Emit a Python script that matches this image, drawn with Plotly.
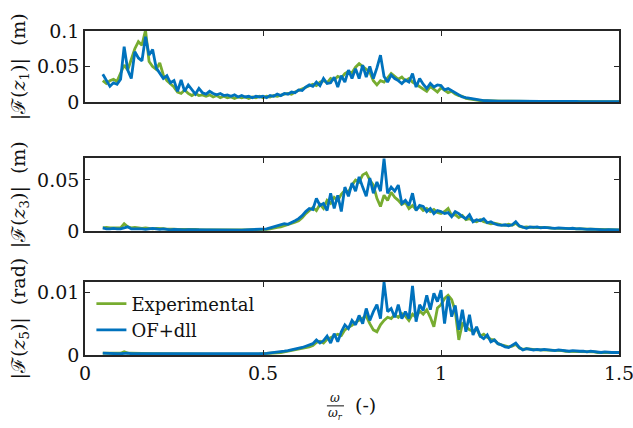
import numpy as np
import plotly.graph_objects as go
from plotly.subplots import make_subplots

# frequency grid omega/omega_r
freq = np.round(np.arange(0.05, 1.5001, 0.01), 2)

# panel 1 : |F(z1)| (m)
exp_z1 = [
    0.030,0.026,0.030,0.032,0.029,0.040,0.052,0.045,0.060,0.075,
    0.085,0.080,0.101,0.057,0.050,0.046,0.055,0.038,0.030,0.026,
    0.021,0.014,0.012,0.017,0.012,0.009,0.012,0.009,0.010,0.008,
    0.010,0.007,0.009,0.006,0.008,0.006,0.007,0.005,0.007,0.006,
    0.007,0.005,0.007,0.006,0.008,0.006,0.008,0.007,0.009,0.008,
    0.010,0.011,0.012,0.011,0.014,0.016,0.018,0.020,0.022,0.025,
    0.023,0.028,0.030,0.027,0.033,0.031,0.036,0.034,0.040,0.043,
    0.041,0.049,0.054,0.050,0.047,0.042,0.030,0.024,0.030,0.028,
    0.034,0.040,0.036,0.032,0.035,0.030,0.033,0.028,0.025,0.022,
    0.018,0.015,0.022,0.018,0.014,0.020,0.016,0.013,0.015,0.011,
    0.009,0.008,0.005,0.004,0.0035,0.003,0.002,0.0018,0.0015,0.0014,
    0.0013,0.0012,0.0012,0.0011,0.0010,0.0011,0.0009,0.0010,0.0009,0.0008,
    0.0009,0.0008,0.0008,0.0007,0.0008,0.0007,0.0007,0.0006,0.0007,0.0006,
    0.0006,0.0006,0.0005,0.0006,0.0005,0.0005,0.0005,0.0004,0.0005,0.0004,
    0.0004,0.0005,0.0004,0.0004,0.0004,0.0004]
sim_z1 = [
    0.039,0.030,0.022,0.027,0.025,0.032,0.078,0.045,0.033,0.071,
    0.062,0.058,0.092,0.066,0.074,0.048,0.040,0.033,0.037,0.027,
    0.030,0.015,0.031,0.015,0.024,0.018,0.011,0.019,0.013,0.011,
    0.015,0.012,0.010,0.012,0.009,0.010,0.008,0.010,0.007,0.009,
    0.007,0.008,0.006,0.008,0.007,0.008,0.006,0.009,0.008,0.011,
    0.009,0.012,0.011,0.014,0.013,0.017,0.016,0.021,0.024,0.022,
    0.028,0.023,0.033,0.026,0.027,0.035,0.021,0.037,0.028,0.045,
    0.033,0.047,0.033,0.052,0.035,0.050,0.033,0.048,0.066,0.036,
    0.028,0.038,0.033,0.030,0.026,0.031,0.028,0.040,0.021,0.033,
    0.025,0.019,0.026,0.021,0.024,0.023,0.017,0.019,0.016,0.012,
    0.010,0.007,0.006,0.005,0.004,0.003,0.0025,0.002,0.002,0.0015,
    0.0015,0.0013,0.0012,0.0014,0.0011,0.0012,0.0010,0.0011,0.0009,0.0010,
    0.0009,0.0010,0.0008,0.0009,0.0008,0.0009,0.0007,0.0008,0.0007,0.0008,
    0.0007,0.0008,0.0006,0.0007,0.0006,0.0007,0.0006,0.0006,0.0005,0.0006,
    0.0005,0.0006,0.0005,0.0005,0.0004,0.0005]

# panel 2 : |F(z3)| (m)
exp_z3 = [
    0.003,0.0035,0.003,0.003,0.0035,0.003,0.007,0.004,0.003,0.0035,
    0.003,0.0025,0.003,0.0025,0.002,0.0025,0.002,0.0022,0.0018,0.002,
    0.0018,0.0016,0.0017,0.0014,0.0015,0.0013,0.0014,0.0012,0.0013,0.0011,
    0.0012,0.001,0.0011,0.001,0.0011,0.0009,0.001,0.0009,0.001,0.0009,
    0.0009,0.0009,0.001,0.001,0.0011,0.0012,0.0016,0.002,0.003,0.0035,
    0.004,0.005,0.006,0.007,0.0085,0.010,0.013,0.017,0.020,0.023,
    0.020,0.026,0.022,0.030,0.027,0.033,0.030,0.036,0.040,0.038,
    0.045,0.050,0.048,0.055,0.057,0.050,0.045,0.032,0.024,0.035,
    0.030,0.038,0.033,0.030,0.026,0.028,0.022,0.025,0.021,0.024,
    0.020,0.022,0.019,0.021,0.018,0.017,0.019,0.022,0.015,0.016,
    0.013,0.015,0.011,0.012,0.010,0.009,0.011,0.009,0.008,0.007,
    0.0075,0.0065,0.006,0.0055,0.0065,0.0055,0.0075,0.0045,0.0035,0.004,
    0.0035,0.0038,0.0032,0.0035,0.003,0.0032,0.0028,0.0027,0.0025,0.0027,
    0.0023,0.0024,0.0021,0.0022,0.002,0.0019,0.0018,0.0016,0.0015,0.0014,
    0.0013,0.0012,0.0011,0.0011,0.001,0.001]
sim_z3 = [
    0.003,0.002,0.002,0.0025,0.002,0.002,0.003,0.004,0.002,0.002,
    0.0025,0.002,0.0015,0.002,0.0025,0.002,0.0015,0.002,0.0015,0.001,
    0.0015,0.0012,0.0014,0.001,0.0013,0.0011,0.0012,0.001,0.0011,0.0009,
    0.001,0.0009,0.0011,0.0009,0.001,0.0008,0.0009,0.0008,0.0009,0.0008,
    0.0009,0.001,0.001,0.0012,0.0013,0.0015,0.002,0.003,0.004,0.005,
    0.0055,0.007,0.0065,0.008,0.010,0.012,0.015,0.019,0.022,0.021,
    0.032,0.025,0.027,0.020,0.037,0.022,0.035,0.019,0.043,0.034,
    0.047,0.039,0.053,0.043,0.034,0.052,0.037,0.048,0.039,0.071,
    0.037,0.043,0.039,0.045,0.027,0.030,0.025,0.037,0.020,0.025,
    0.024,0.019,0.022,0.017,0.020,0.019,0.017,0.018,0.014,0.019,
    0.017,0.014,0.012,0.016,0.009,0.011,0.010,0.012,0.008,0.009,
    0.007,0.006,0.0055,0.006,0.005,0.006,0.009,0.005,0.004,0.0026,
    0.004,0.0035,0.004,0.003,0.0035,0.003,0.003,0.0025,0.003,0.0026,
    0.0025,0.0022,0.0026,0.002,0.0022,0.0018,0.0016,0.0018,0.0015,0.0013,
    0.0012,0.001,0.0012,0.001,0.0011,0.001]

# panel 3 : |F(z5)| (rad)
exp_z5 = [
    0.0003,0.0003,0.00028,0.0003,0.00025,0.00028,0.0005,0.0003,0.00028,0.00025,
    0.00025,0.00022,0.00025,0.00022,0.0002,0.00022,0.0002,0.0002,0.00018,0.0002,
    0.00018,0.00017,0.00018,0.00016,0.00017,0.00015,0.00016,0.00015,0.00015,0.00014,
    0.00015,0.00014,0.00014,0.00013,0.00014,0.00013,0.00013,0.00013,0.00012,0.00013,
    0.00012,0.00013,0.00014,0.00015,0.00017,0.0002,0.00022,0.00026,0.0003,0.00035,
    0.0004,0.0005,0.0006,0.0007,0.0008,0.0009,0.0010,0.0012,0.0013,0.0015,
    0.0020,0.0022,0.0019,0.0025,0.0028,0.0030,0.0033,0.0031,0.0040,0.0044,
    0.0047,0.0052,0.0055,0.0058,0.0062,0.0050,0.0040,0.0037,0.0048,0.0055,
    0.0060,0.0058,0.0064,0.0060,0.0066,0.0062,0.0055,0.0065,0.0060,0.0070,
    0.0065,0.0072,0.0060,0.0045,0.0075,0.0080,0.0090,0.0095,0.0088,0.0070,
    0.0024,0.0050,0.0045,0.0040,0.0038,0.0042,0.0030,0.0033,0.0028,0.0025,
    0.0024,0.0018,0.0016,0.0014,0.0013,0.0014,0.0017,0.0011,0.0009,0.0010,
    0.0009,0.0009,0.0008,0.0008,0.0008,0.0008,0.0007,0.0007,0.0007,0.0007,
    0.0006,0.0006,0.0006,0.0006,0.0005,0.0005,0.0005,0.0005,0.0005,0.0004,
    0.0004,0.0004,0.0004,0.0004,0.0004,0.0004]
sim_z5 = [
    0.0003,0.00025,0.0002,0.00025,0.0002,0.0002,0.00025,0.0003,0.0002,0.0002,
    0.0002,0.00018,0.0002,0.00018,0.0002,0.00017,0.00018,0.00016,0.00018,0.00016,
    0.00017,0.00015,0.00016,0.00015,0.00016,0.00014,0.00015,0.00014,0.00015,0.00014,
    0.00014,0.00013,0.00014,0.00013,0.00014,0.00013,0.00013,0.00012,0.00013,0.00012,
    0.00013,0.00015,0.00016,0.00018,0.0002,0.00022,0.00025,0.0003,0.00035,0.0004,
    0.0005,0.0006,0.0007,0.0008,0.0009,0.0011,0.0012,0.0014,0.0016,0.0018,
    0.0024,0.0019,0.0023,0.0030,0.0019,0.0034,0.0021,0.0037,0.0048,0.0042,
    0.0055,0.0048,0.0063,0.0050,0.0074,0.0055,0.0069,0.0080,0.0058,0.0116,
    0.0069,0.0074,0.0060,0.0080,0.0058,0.0069,0.0058,0.0110,0.0053,0.0080,
    0.0071,0.0095,0.0072,0.0098,0.0085,0.0103,0.0050,0.0093,0.0061,0.0079,
    0.0040,0.0072,0.0037,0.0064,0.0032,0.0045,0.0030,0.0026,0.0032,0.0021,
    0.0024,0.0018,0.0016,0.0013,0.0012,0.0015,0.0019,0.0012,0.0008,0.0010,
    0.0009,0.0008,0.0009,0.0008,0.0009,0.0008,0.0008,0.0007,0.0008,0.0007,
    0.0007,0.0006,0.0007,0.0006,0.0006,0.0006,0.0005,0.0006,0.0005,0.0005,
    0.0004,0.0005,0.0004,0.0004,0.0004,0.0004]

series_names = ["Experimental", "OF+dll"]
colors = ["#77AC30", "#0072BD"]
y_titles = ["|ℱ(<i>z</i><sub>1</sub>)|  (m)",
            "|ℱ(<i>z</i><sub>3</sub>)|  (m)",
            "|ℱ(<i>z</i><sub>5</sub>)|  (rad)"]
y_ranges = [[0, 0.1], [0, 0.0716], [0, 0.0116]]
y_ticks = [[0, 0.05, 0.1], [0, 0.05], [0, 0.01]]
x_ticks = [0, 0.5, 1, 1.5]
panels = [(exp_z1, sim_z1), (exp_z3, sim_z3), (exp_z5, sim_z5)]

FONT = "DejaVu Serif"
AX = "#262626"
TXT = "#111111"

fig = make_subplots(rows=3, cols=1)
for i, (ex, sm) in enumerate(panels):
    for j, vals in enumerate([ex, sm]):
        fig.add_trace(go.Scatter(
            x=freq, y=vals, mode="lines", name=series_names[j],
            line=dict(color=colors[j], width=2.8),
            showlegend=(i == 2)), row=i + 1, col=1)

domains = [[0.781, 1.0], [0.383, 0.608], [0.0, 0.225]]
for i in range(3):
    fig.update_xaxes(row=i + 1, col=1, range=[0, 1.5], tickvals=x_ticks,
                     showticklabels=(i == 2), ticks="inside", ticklen=5,
                     tickwidth=1.3, tickcolor=AX, showline=True, linecolor=AX,
                     linewidth=1.6, mirror="ticks", showgrid=False,
                     zeroline=False, automargin=False, ticklabeloverflow="allow",
                     tickfont=dict(family=FONT, size=19, color=TXT))
    fig.update_yaxes(row=i + 1, col=1, range=y_ranges[i], tickvals=y_ticks[i],
                     domain=domains[i], ticks="inside", ticklen=5,
                     tickwidth=1.3, tickcolor=AX, showline=True, linecolor=AX,
                     linewidth=1.6, mirror="ticks", showgrid=False,
                     zeroline=False, automargin=False, ticklabeloverflow="allow",
                     tickfont=dict(family=FONT, size=19, color=TXT))

annotations = []
for i in range(3):
    yc = (domains[i][0] + domains[i][1]) / 2
    annotations.append(dict(text=y_titles[i], xref="paper", yref="paper",
                            x=-0.122, y=yc, textangle=-90, showarrow=False,
                            font=dict(family=FONT, size=19, color=TXT),
                            xanchor="center", yanchor="middle"))
# x axis label: omega / omega_r (-)
annotations.append(dict(text="<i>ω</i>", xref="paper", yref="paper", x=0.468,
                        y=-0.133, showarrow=False, xanchor="center", yanchor="middle",
                        font=dict(family=FONT, size=12, color=TXT)))
annotations.append(dict(text="<i>ω</i><sub><i>r</i></sub>", xref="paper", yref="paper",
                        x=0.470, y=-0.183, showarrow=False, xanchor="center",
                        yanchor="middle", font=dict(family=FONT, size=12, color=TXT)))
annotations.append(dict(text="(-)", xref="paper", yref="paper", x=0.526, y=-0.155,
                        showarrow=False, xanchor="center", yanchor="middle",
                        font=dict(family=FONT, size=19, color=TXT)))

fig.update_layout(
    width=633, height=428,
    margin=dict(l=85, r=14, t=31, b=73),
    paper_bgcolor="white", plot_bgcolor="white",
    annotations=annotations,
    shapes=[dict(type="line", xref="paper", yref="paper", x0=0.453, x1=0.485,
                 y0=-0.157, y1=-0.157, line=dict(color=TXT, width=1))],
    legend=dict(x=0.012, y=0.215, xanchor="left", yanchor="top",
                bgcolor="rgba(255,255,255,0)", borderwidth=0,
                font=dict(family=FONT, size=18, color=TXT),
                tracegroupgap=0),
    showlegend=True,
)

fig.write_html("out.html", config={"displayModeBar": False},
               post_script="document.body.style.margin='0';document.body.style.padding='0';")
